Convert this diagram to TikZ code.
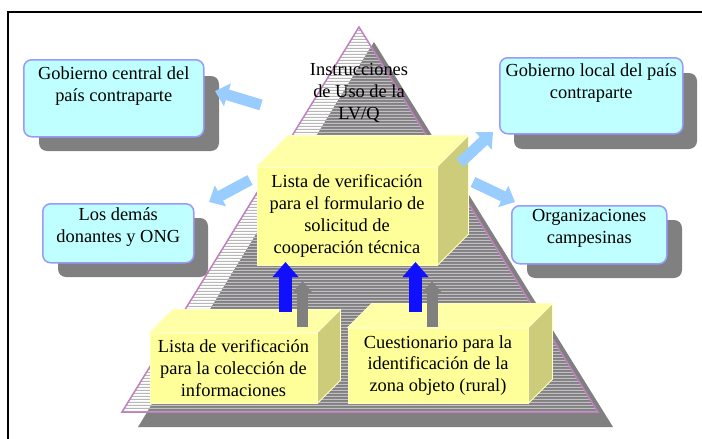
\documentclass[tikz,border=0pt]{standalone}
\usepackage{fontspec}
\setmainfont{Liberation Serif}
\usetikzlibrary{arrows.meta, calc, patterns}

\definecolor{cyanbox}{HTML}{C0FFFF}
\definecolor{boxedge}{HTML}{9999FF}
\definecolor{shadowgray}{HTML}{808080}
\definecolor{stripegray}{HTML}{909090}
\definecolor{stripelight}{HTML}{E8E0EC}
\definecolor{pyredge}{HTML}{C080C0}
\definecolor{cubefront}{HTML}{FFFF99}
\definecolor{cubetop}{HTML}{FFFFA8}
\definecolor{cubeside}{HTML}{CCCC7A}
\definecolor{cubeedge}{HTML}{FFFFC0}
\definecolor{arrowlight}{HTML}{99CCFF}
\definecolor{arrowdeep}{HTML}{1010FF}

\pgfdeclarepatternformonly{hstripes}{\pgfqpoint{0pt}{0pt}}{\pgfqpoint{1pt}{3pt}}{\pgfqpoint{1pt}{3pt}}{%
  \pgfpathrectangle{\pgfqpoint{0pt}{0pt}}{\pgfqpoint{1pt}{1.5pt}}\pgfusepath{fill}}

\begin{document}
\begin{tikzpicture}[x=1pt, y=-1pt, font=\fontsize{18.4}{21.7}\selectfont,
    infobox/.style={draw=boxedge, fill=cyanbox, line width=1.5pt, rounded corners=8pt, anchor=north west, inner sep=0pt},
    infoshadow/.style={fill=shadowgray, rounded corners=8pt},
    infotext/.style={anchor=north, align=center, inner sep=0pt},
    cubebox/.style={fill=cubefront, draw=cubeedge, line width=0.8pt, align=center, inner sep=0pt},
    linkarrow/.style={draw=arrowlight, line width=11pt, -{Triangle[width=23pt, length=13pt]}},
    uparrow/.style={draw=arrowdeep, line width=13pt, -{Triangle[width=25pt, length=15pt]}},
    shadearrow/.style={draw=shadowgray, line width=11pt, -{Triangle[width=18pt, length=11pt]}}]
    \clip (0,0) rectangle (702,439);
    \draw[line width=1.5pt] (720,12) -- (8,12) -- (8,460);

    % piramide
    \coordinate (apex) at (359,27);
    \coordinate (baseL) at (122,412);
    \coordinate (baseR) at (598,412);
    \coordinate (sapex) at (374,42);
    \coordinate (sbaseL) at (138,427);
    \coordinate (sbaseR) at (613,427);
    \fill[shadowgray] (sapex) -- (sbaseL) -- (sbaseR) -- cycle;
    \fill[pattern=hstripes, pattern color=stripegray] (apex) -- (baseL) -- (baseR) -- cycle;
    \begin{scope}
      \clip (sapex) -- (sbaseL) -- (sbaseR) -- cycle;
      \fill[shadowgray] (apex) -- (baseL) -- (baseR) -- cycle;
      \fill[pattern=hstripes, pattern color=stripelight] (apex) -- (baseL) -- (baseR) -- cycle;
    \end{scope}
    \draw[pyredge, line width=1.5pt] (apex) -- (baseL) -- (baseR) -- cycle;
    \node[align=center, inner sep=0pt] (instr) at (359,93) {Instrucciones\\de Uso de la\\LV/Q};

    % cuadros
    \fill[infoshadow] (39,76) rectangle (219,151);
    \node[infobox, minimum width=180pt, minimum height=77pt] (gcentral) at (23,59) {};
    \node[infotext] at ($(gcentral.north)+(0,7.5)$) {Gobierno central del\\país contraparte};

    \fill[infoshadow] (514,73) rectangle (697,149);
    \node[infobox, minimum width=183pt, minimum height=76pt] (glocal) at (499,57) {};
    \node[infotext] at ($(glocal.north)+(0,6.5)$) {Gobierno local del país\\contraparte};

    \fill[infoshadow] (58,218) rectangle (208,277);
    \node[infobox, minimum width=151pt, minimum height=59pt] (donantes) at (42,203) {};
    \node[infotext] at ($(donantes.north)+(0,4.5)$) {Los demás\\donantes y ONG};

    \fill[infoshadow] (527,220) rectangle (682,278);
    \node[infobox, minimum width=155pt, minimum height=58pt] (campesinas) at (511,205) {};
    \node[infotext] at ($(campesinas.north)+(0,4.5)$) {Organizaciones\\campesinas};

    % cajas
    \node[cubebox, minimum width=180pt, minimum height=98pt] (lvform) at (347,216) {Lista de verificación\\para el formulario de\\solicitud de\\cooperación técnica};
    \filldraw[fill=cubetop, draw=cubeedge, line width=0.8pt] (lvform.north west) -- ++(31,-31) -- ($(lvform.north east)+(31,-31)$) -- (lvform.north east) -- cycle;
    \filldraw[fill=cubeside, draw=cubeedge, line width=0.8pt] (lvform.north east) -- ++(31,-31) -- ($(lvform.south east)+(31,-31)$) -- (lvform.south east) -- cycle;

    \node[cubebox, minimum width=167pt, minimum height=70pt] (colec) at (233.5,368) {Lista de verificación\\para la colección de\\informaciones};
    \filldraw[fill=cubetop, draw=cubeedge, line width=0.8pt] (colec.north west) -- ++(23,-23) -- ($(colec.north east)+(23,-23)$) -- (colec.north east) -- cycle;
    \filldraw[fill=cubeside, draw=cubeedge, line width=0.8pt] (colec.north east) -- ++(23,-23) -- ($(colec.south east)+(23,-23)$) -- (colec.south east) -- cycle;

    \node[cubebox, minimum width=180pt, minimum height=75pt] (zona) at (438,365.5) {Cuestionario para la\\identificación de la\\zona objeto (rural)};
    \filldraw[fill=cubetop, draw=cubeedge, line width=0.8pt] (zona.north west) -- ++(24,-24) -- ($(zona.north east)+(24,-24)$) -- (zona.north east) -- cycle;
    \filldraw[fill=cubeside, draw=cubeedge, line width=0.8pt] (zona.north east) -- ++(24,-24) -- ($(zona.south east)+(24,-24)$) -- (zona.south east) -- cycle;

    % flechas
    \coordinate (a1) at (261,105);
    \coordinate (a1t) at (215,91);
    \coordinate (a2) at (250,180);
    \coordinate (a2t) at (209,202);
    \coordinate (a3) at (460,163);
    \coordinate (a3t) at (493,132);
    \coordinate (a4) at (473,182);
    \coordinate (a4t) at (515,202);
    \draw[linkarrow] (a1) -- (a1t);
    \draw[linkarrow] (a2) -- (a2t);
    \draw[linkarrow] (a3) -- (a3t);
    \draw[linkarrow] (a4) -- (a4t);

    \coordinate (u1) at (285.5,312);
    \coordinate (u1t) at (285.5,262);
    \coordinate (s1) at (302.5,327);
    \coordinate (s1t) at (302.5,281);
    \coordinate (u2) at (415.5,312);
    \coordinate (u2t) at (415.5,262);
    \coordinate (s2) at (432,327);
    \coordinate (s2t) at (432,281);
    \draw[shadearrow] (s1) -- (s1t);
    \draw[shadearrow] (s2) -- (s2t);
    \draw[uparrow] (u1) -- (u1t);
    \draw[uparrow] (u2) -- (u2t);
\end{tikzpicture}
\end{document}
